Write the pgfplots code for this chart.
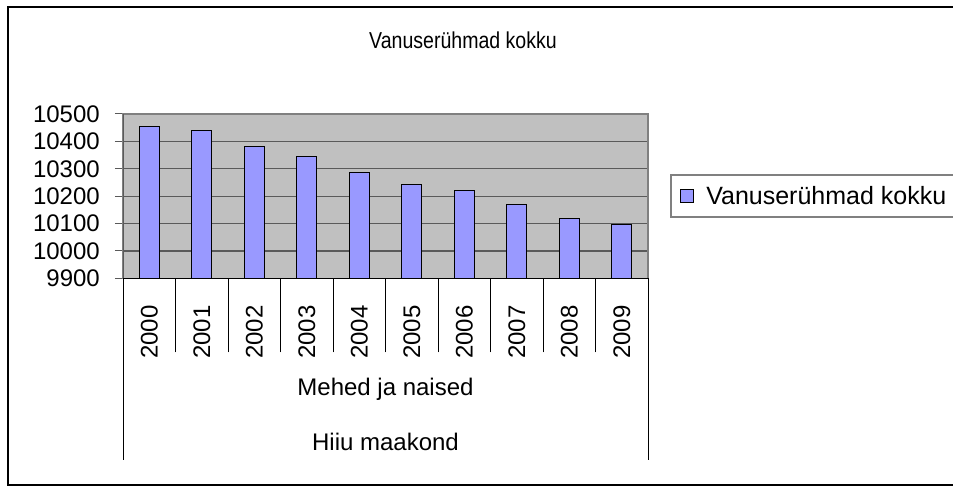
\documentclass[border=0pt]{standalone}
\usepackage{fontspec}
\setmainfont{Liberation Sans}
\usepackage{graphicx}
\usepackage{pgfplots}
\pgfplotsset{compat=1.18}
\definecolor{barfill}{HTML}{9999FF}
\definecolor{plotbg}{HTML}{C0C0C0}
\definecolor{gridc}{HTML}{5A5A5A}
\definecolor{borderc}{HTML}{808080}
\newcommand{\chartfont}{\fontsize{24bp}{28bp}\selectfont}
\newcommand{\legfont}{\fontsize{25bp}{29bp}\selectfont}
\newcommand{\titlefont}{\fontsize{23bp}{27bp}\selectfont}
\begin{document}
\begin{tikzpicture}
\fill[white] (-10bp,-10bp) rectangle (970bp,500bp);
\node[font=\titlefont] at (463bp,447bp) {\scalebox{0.85}[1]{Vanuserühmad kokku}};
\begin{axis}[
  at={(123bp,208.7bp)}, anchor=south west,
  scale only axis, width=525bp, height=164.3bp,
  xmin=-0.5, xmax=9.5, ymin=9900, ymax=10500,
  ytick={9900,10000,10100,10200,10300,10400,10500},
  scaled y ticks=false,
  /pgf/number format/.cd, 1000 sep={}, assume math mode=true,
  /pgfplots/.cd,
  xtick={0,1,2,3,4,5,6,7,8,9},
  xticklabels={2000,2001,2002,2003,2004,2005,2006,2007,2008,2009},
  tick pos=left,
  tick align=outside,
  ytick style={gridc, line width=1bp},
  major tick length=8bp,
  xtick style={draw=none},
  ticklabel style={font=\chartfont, inner sep=0pt},
  yticklabel style={anchor=east},
  yticklabel shift=15bp,
  xticklabel style={rotate=90, anchor=east},
  xticklabel shift=19bp,
  extra x ticks={0.5,1.5,2.5,3.5,4.5,5.5,6.5,7.5,8.5},
  extra x tick labels={},
  extra x tick style={xtick style={draw=black, line width=0.8bp}, major tick length=74bp},
  ymajorgrids,
  grid style={gridc, line width=1.2bp},
  axis background/.style={fill=plotbg},
  axis line style={borderc, line width=1.2bp},
  legend style={at={(1.06095,0.5009)}, anchor=west, draw=none, fill=none,
    font=\legfont, inner sep=0pt, nodes={inner sep=0pt}, column sep=0pt},
  legend cell align=left,
]
\addplot[ybar, bar width=20bp, bar shift=0pt, fill=barfill, draw=black, line width=1.2bp,
  legend image code/.code={\draw[fill=barfill, draw=black, line width=1bp] (0bp,-6.5bp) rectangle (13bp,6.5bp); \path (25bp,0bp);}]
  coordinates {(0,10455) (1,10440) (2,10381) (3,10344) (4,10286) (5,10243) (6,10220) (7,10170) (8,10118) (9,10097)};
\addlegendentry{Vanuserühmad kokku}
\draw[gridc, line width=1.2bp] (rel axis cs:0,0) -- (rel axis cs:0,1);
\draw[black, line width=1.2bp] (rel axis cs:0,0) -- (rel axis cs:1,0);
\end{axis}
\draw[borderc, line width=1.2bp] (965bp,312bp) -- (671bp,312bp) -- (671bp,270bp) -- (965bp,270bp);
\draw[black, line width=0.8bp] (123bp,208.7bp) -- (123bp,27bp);
\draw[black, line width=0.8bp] (648bp,208.7bp) -- (648bp,27bp);
\node[font=\chartfont] at (385.5bp,98bp) {Mehed ja naised};
\node[font=\chartfont] at (385.5bp,45bp) {Hiiu maakond};
\draw[black, line width=2bp] (965bp,480bp) -- (8bp,480bp) -- (8bp,2bp) -- (965bp,2bp);
\pgfresetboundingbox
\useasboundingbox (0,0) rectangle (953bp,487bp);
\end{tikzpicture}
\end{document}
